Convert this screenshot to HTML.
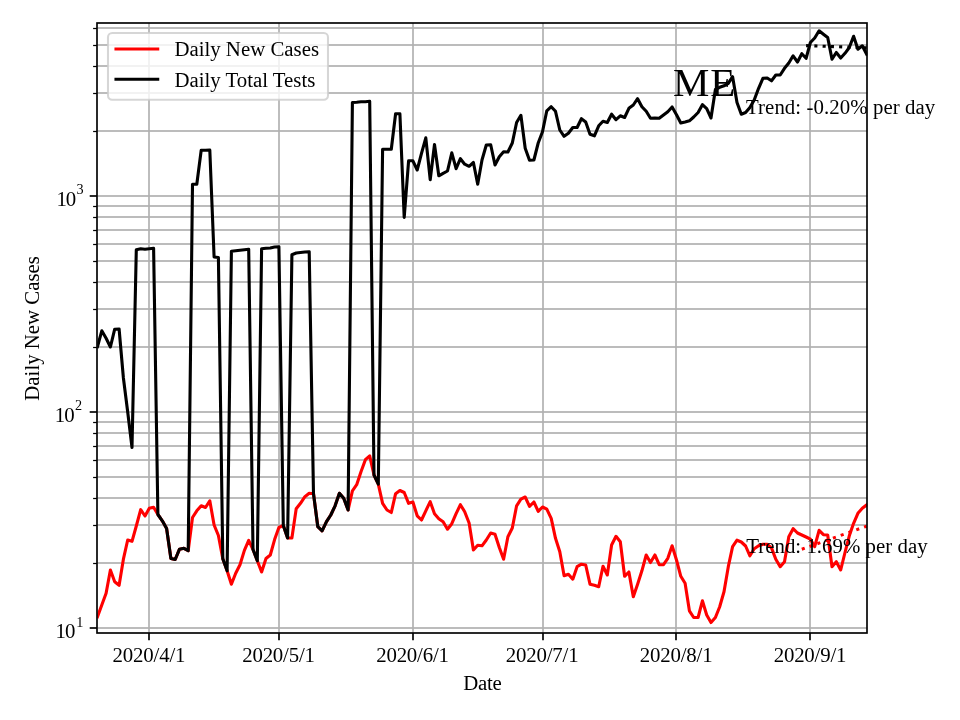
<!DOCTYPE html>
<html><head><meta charset="utf-8"><title>ME</title>
<style>
html,body{margin:0;padding:0;background:#fff;}
body{width:960px;height:720px;overflow:hidden;font-family:"Liberation Serif",serif;}
svg{display:block;will-change:transform}
text{font-family:"Liberation Serif",serif;fill:#000;}
</style></head><body>
<svg width="960" height="720" viewBox="0 0 960 720">
<rect width="960" height="720" fill="#fff"/>
<defs><clipPath id="c"><rect x="97.3" y="22.9" width="770.0" height="609.9"/></clipPath></defs>
<g stroke="#b0b0b0" stroke-width="1.67" fill="none"><line x1="149.0" x2="149.0" y1="22.9" y2="632.8"/><line x1="279.0" x2="279.0" y1="22.9" y2="632.8"/><line x1="413.0" x2="413.0" y1="22.9" y2="632.8"/><line x1="543.0" x2="543.0" y1="22.9" y2="632.8"/><line x1="676.0" x2="676.0" y1="22.9" y2="632.8"/><line x1="810.0" x2="810.0" y1="22.9" y2="632.8"/><rect x="97.3" y="627.165" width="770.0" height="1.67" fill="#b0b0b0" stroke="none"/><rect x="97.3" y="411.165" width="770.0" height="1.67" fill="#b0b0b0" stroke="none"/><rect x="97.3" y="195.165" width="770.0" height="1.67" fill="#b0b0b0" stroke="none"/><rect x="97.3" y="562.165" width="770.0" height="1.67" fill="#b0b0b0" stroke="none"/><rect x="97.3" y="524.165" width="770.0" height="1.67" fill="#b0b0b0" stroke="none"/><rect x="97.3" y="497.165" width="770.0" height="1.67" fill="#b0b0b0" stroke="none"/><rect x="97.3" y="476.165" width="770.0" height="1.67" fill="#b0b0b0" stroke="none"/><rect x="97.3" y="459.165" width="770.0" height="1.67" fill="#b0b0b0" stroke="none"/><rect x="97.3" y="445.165" width="770.0" height="1.67" fill="#b0b0b0" stroke="none"/><rect x="97.3" y="432.165" width="770.0" height="1.67" fill="#b0b0b0" stroke="none"/><rect x="97.3" y="421.165" width="770.0" height="1.67" fill="#b0b0b0" stroke="none"/><rect x="97.3" y="346.165" width="770.0" height="1.67" fill="#b0b0b0" stroke="none"/><rect x="97.3" y="308.165" width="770.0" height="1.67" fill="#b0b0b0" stroke="none"/><rect x="97.3" y="281.165" width="770.0" height="1.67" fill="#b0b0b0" stroke="none"/><rect x="97.3" y="260.165" width="770.0" height="1.67" fill="#b0b0b0" stroke="none"/><rect x="97.3" y="243.165" width="770.0" height="1.67" fill="#b0b0b0" stroke="none"/><rect x="97.3" y="229.165" width="770.0" height="1.67" fill="#b0b0b0" stroke="none"/><rect x="97.3" y="216.165" width="770.0" height="1.67" fill="#b0b0b0" stroke="none"/><rect x="97.3" y="205.165" width="770.0" height="1.67" fill="#b0b0b0" stroke="none"/><rect x="97.3" y="130.165" width="770.0" height="1.67" fill="#b0b0b0" stroke="none"/><rect x="97.3" y="92.165" width="770.0" height="1.67" fill="#b0b0b0" stroke="none"/><rect x="97.3" y="65.165" width="770.0" height="1.67" fill="#b0b0b0" stroke="none"/><rect x="97.3" y="44.165" width="770.0" height="1.67" fill="#b0b0b0" stroke="none"/><rect x="97.3" y="27.165" width="770.0" height="1.67" fill="#b0b0b0" stroke="none"/></g>
<g clip-path="url(#c)" fill="none" stroke-width="3.1" stroke-linejoin="round" stroke-linecap="square"><polyline stroke="#ff0000" points="97.5,616.7 101.8,605.0 106.1,593.3 110.4,570.0 114.7,581.7 119.1,585.3 123.4,559.2 127.7,540.0 132.0,541.3 136.3,526.0 140.7,509.7 145.0,516.0 149.3,508.3 153.6,507.2 157.9,514.5 162.3,520.8 166.6,528.5 170.9,558.5 175.2,559.5 179.5,549.2 183.9,548.3 188.2,550.7 192.5,517.5 196.8,510.8 201.2,505.8 205.5,507.5 209.8,500.8 214.1,525.0 218.4,535.5 222.8,558.7 227.1,570.8 231.4,584.2 235.7,573.3 240.0,564.8 244.4,550.4 248.7,540.4 253.0,549.5 257.3,560.8 261.6,572.0 266.0,558.5 270.3,555.0 274.6,539.6 278.9,527.5 283.3,525.4 287.6,538.0 291.9,538.0 296.2,508.7 300.5,503.3 304.9,496.7 309.2,493.3 313.5,493.7 317.8,526.7 322.1,530.8 326.5,521.7 330.8,515.0 335.1,505.8 339.4,493.3 343.7,498.3 348.1,510.0 352.4,490.8 356.7,484.7 361.0,471.7 365.4,459.7 369.7,455.8 374.0,475.0 378.3,484.2 382.6,503.3 387.0,510.0 391.3,512.5 395.6,493.7 399.9,490.5 404.2,492.5 408.6,503.3 412.9,502.0 417.2,515.8 421.5,520.0 425.8,510.8 430.2,501.7 434.5,513.7 438.8,518.7 443.1,521.7 447.5,529.2 451.8,523.7 456.1,513.7 460.4,504.7 464.7,511.7 469.1,523.0 473.4,550.0 477.7,545.3 482.0,545.8 486.3,540.0 490.7,533.0 495.0,534.2 499.3,547.5 503.6,559.2 507.9,536.7 512.3,528.0 516.6,505.8 520.9,499.2 525.2,497.0 529.5,506.3 533.9,502.0 538.2,511.3 542.5,507.0 546.8,509.2 551.2,518.3 555.5,538.3 559.8,551.7 564.1,575.8 568.4,574.2 572.8,579.2 577.1,566.7 581.4,564.2 585.7,565.0 590.0,584.2 594.4,585.3 598.7,586.7 603.0,566.3 607.3,575.0 611.6,545.0 616.0,536.3 620.3,541.7 624.6,576.3 628.9,572.0 633.3,596.7 637.6,584.2 641.9,570.8 646.2,555.0 650.5,562.5 654.9,555.0 659.2,564.7 663.5,564.7 667.8,558.3 672.1,545.8 676.5,560.0 680.8,576.3 685.1,583.3 689.4,610.8 693.7,617.5 698.1,617.5 702.4,600.8 706.7,615.0 711.0,622.5 715.4,617.5 719.7,606.7 724.0,591.7 728.3,566.7 732.6,546.7 737.0,540.2 741.3,542.0 745.6,546.0 749.9,555.8 754.2,548.7 758.6,545.8 762.9,544.2 767.2,544.3 771.5,547.9 775.8,559.2 780.2,566.7 784.5,561.7 788.8,536.7 793.1,528.7 797.5,533.0 801.8,535.0 806.1,537.0 810.4,539.2 814.7,546.7 819.1,530.3 823.4,534.7 827.7,535.0 832.0,566.7 836.3,561.7 840.7,570.0 845.0,552.5 849.3,535.8 853.6,523.3 857.9,513.3 862.3,508.3 866.6,505.0"/><polyline stroke="#000" points="97.5,346.7 101.8,330.8 106.1,338.3 110.4,347.0 114.7,329.2 119.1,329.0 123.4,378.0 127.7,412.0 132.0,447.5 136.3,249.7 140.7,248.7 145.0,249.2 149.3,248.7 153.6,248.3 157.9,514.5 162.3,520.8 166.6,528.5 170.9,558.5 175.2,559.5 179.5,549.2 183.9,548.3 188.2,550.7 192.5,184.2 196.8,184.2 201.2,150.3 205.5,150.3 209.8,150.0 214.1,257.0 218.4,257.5 222.8,558.7 227.1,570.8 231.4,251.3 235.7,250.8 240.0,250.3 244.4,249.7 248.7,249.2 253.0,549.5 257.3,560.8 261.6,248.7 266.0,248.3 270.3,248.0 274.6,247.0 278.9,246.7 283.3,525.4 287.6,538.0 291.9,254.7 296.2,253.0 300.5,252.5 304.9,252.0 309.2,251.7 313.5,493.7 317.8,526.7 322.1,530.8 326.5,521.7 330.8,515.0 335.1,505.8 339.4,493.3 343.7,498.3 348.1,510.0 352.4,102.5 356.7,102.2 361.0,101.8 365.4,101.7 369.7,101.3 374.0,475.0 378.3,484.2 382.6,149.2 387.0,149.2 391.3,149.2 395.6,113.8 399.9,113.8 404.2,217.5 408.6,160.8 412.9,160.8 417.2,170.0 421.5,153.3 425.8,137.8 430.2,179.7 434.5,144.5 438.8,175.8 443.1,173.3 447.5,171.0 451.8,152.8 456.1,168.7 460.4,158.7 464.7,164.2 469.1,166.3 473.4,162.5 477.7,184.2 482.0,160.0 486.3,145.0 490.7,144.7 495.0,165.0 499.3,156.7 503.6,151.7 507.9,152.0 512.3,143.0 516.6,122.5 520.9,115.3 525.2,148.3 529.5,160.3 533.9,160.0 538.2,143.0 542.5,131.7 546.8,110.8 551.2,106.7 555.5,111.3 559.8,130.0 564.1,136.3 568.4,133.3 572.8,127.5 577.1,127.5 581.4,118.7 585.7,122.0 590.0,134.2 594.4,135.8 598.7,125.8 603.0,121.3 607.3,122.5 611.6,114.2 616.0,119.7 620.3,115.8 624.6,117.5 628.9,108.3 633.3,105.0 637.6,98.7 641.9,106.7 646.2,111.3 650.5,118.3 654.9,118.0 659.2,118.3 663.5,115.0 667.8,111.7 672.1,107.0 676.5,114.7 680.8,123.0 685.1,122.0 689.4,120.8 693.7,117.0 698.1,112.5 702.4,104.7 706.7,108.7 711.0,118.0 715.4,89.5 719.7,87.3 724.0,85.8 728.3,83.3 732.6,76.7 737.0,102.5 741.3,114.2 745.6,112.5 749.9,107.5 754.2,100.0 758.6,88.3 762.9,78.3 767.2,78.0 771.5,80.8 775.8,75.0 780.2,75.0 784.5,68.3 788.8,63.0 793.1,55.8 797.5,62.0 801.8,53.7 806.1,58.3 810.4,42.5 814.7,38.0 819.1,30.8 823.4,34.2 827.7,37.5 832.0,59.2 836.3,52.5 840.7,58.0 845.0,53.3 849.3,47.5 853.6,36.3 857.9,49.2 862.3,45.8 866.6,54.2"/><line stroke="#ff0000" stroke-linecap="butt" stroke-dasharray="3.1 5.16" x1="801.8" y1="549.2" x2="866.6" y2="526.2"/><line stroke="#000" stroke-linecap="butt" stroke-dasharray="3.1 5.16" x1="806.1" y1="45.6" x2="866.6" y2="47.8"/></g>
<g stroke="#000" fill="none"><line x1="149.0" x2="149.0" y1="633.0" y2="640.3" stroke-width="1.67"/><line x1="279.0" x2="279.0" y1="633.0" y2="640.3" stroke-width="1.67"/><line x1="413.0" x2="413.0" y1="633.0" y2="640.3" stroke-width="1.67"/><line x1="543.0" x2="543.0" y1="633.0" y2="640.3" stroke-width="1.67"/><line x1="676.0" x2="676.0" y1="633.0" y2="640.3" stroke-width="1.67"/><line x1="810.0" x2="810.0" y1="633.0" y2="640.3" stroke-width="1.67"/><line x1="89.7" x2="97.0" y1="628.0" y2="628.0" stroke-width="1.67"/><line x1="89.7" x2="97.0" y1="412.0" y2="412.0" stroke-width="1.67"/><line x1="89.7" x2="97.0" y1="196.0" y2="196.0" stroke-width="1.67"/><line x1="93.1" x2="97.0" y1="563.5" y2="563.5" stroke-width="1.25"/><line x1="93.1" x2="97.0" y1="525.5" y2="525.5" stroke-width="1.25"/><line x1="93.1" x2="97.0" y1="498.5" y2="498.5" stroke-width="1.25"/><line x1="93.1" x2="97.0" y1="477.5" y2="477.5" stroke-width="1.25"/><line x1="93.1" x2="97.0" y1="460.5" y2="460.5" stroke-width="1.25"/><line x1="93.1" x2="97.0" y1="446.5" y2="446.5" stroke-width="1.25"/><line x1="93.1" x2="97.0" y1="433.5" y2="433.5" stroke-width="1.25"/><line x1="93.1" x2="97.0" y1="422.5" y2="422.5" stroke-width="1.25"/><line x1="93.1" x2="97.0" y1="347.5" y2="347.5" stroke-width="1.25"/><line x1="93.1" x2="97.0" y1="309.5" y2="309.5" stroke-width="1.25"/><line x1="93.1" x2="97.0" y1="282.5" y2="282.5" stroke-width="1.25"/><line x1="93.1" x2="97.0" y1="261.5" y2="261.5" stroke-width="1.25"/><line x1="93.1" x2="97.0" y1="244.5" y2="244.5" stroke-width="1.25"/><line x1="93.1" x2="97.0" y1="230.5" y2="230.5" stroke-width="1.25"/><line x1="93.1" x2="97.0" y1="217.5" y2="217.5" stroke-width="1.25"/><line x1="93.1" x2="97.0" y1="206.5" y2="206.5" stroke-width="1.25"/><line x1="93.1" x2="97.0" y1="131.5" y2="131.5" stroke-width="1.25"/><line x1="93.1" x2="97.0" y1="93.5" y2="93.5" stroke-width="1.25"/><line x1="93.1" x2="97.0" y1="66.5" y2="66.5" stroke-width="1.25"/><line x1="93.1" x2="97.0" y1="45.5" y2="45.5" stroke-width="1.25"/><line x1="93.1" x2="97.0" y1="28.5" y2="28.5" stroke-width="1.25"/></g>
<rect x="97.0" y="23.0" width="770.0" height="610.0" fill="none" stroke="#000" stroke-width="1.67"/>
<text x="148.9" y="661.9" font-size="20.83" letter-spacing="-0.17" text-anchor="middle">2020/4/1</text><text x="278.5" y="661.9" font-size="20.83" letter-spacing="-0.17" text-anchor="middle">2020/5/1</text><text x="412.5" y="661.9" font-size="20.83" letter-spacing="-0.17" text-anchor="middle">2020/6/1</text><text x="542.1" y="661.9" font-size="20.83" letter-spacing="-0.17" text-anchor="middle">2020/7/1</text><text x="676.1" y="661.9" font-size="20.83" letter-spacing="-0.17" text-anchor="middle">2020/8/1</text><text x="810.0" y="661.9" font-size="20.83" letter-spacing="-0.17" text-anchor="middle">2020/9/1</text><text x="55.5" y="638.2" font-size="20.83"><tspan letter-spacing="-1">1</tspan>0<tspan font-size="14.2" dx="1.0" dy="-11.7">1</tspan></text><text x="54.8" y="422.1" font-size="20.83"><tspan letter-spacing="-1">1</tspan>0<tspan font-size="14.2" dx="0.3" dy="-11.7">2</tspan></text><text x="56.4" y="206.1" font-size="20.83"><tspan letter-spacing="-1">1</tspan>0<tspan font-size="14.2" dx="0.3" dy="-11.7">3</tspan></text>
<text x="482.3" y="689.7" font-size="20.83" letter-spacing="-0.25" text-anchor="middle">Date</text><text transform="translate(38.9,328.4) rotate(-90)" font-size="20.83" text-anchor="middle">Daily New Cases</text>
<text x="673.0" y="95.8" font-size="40.9" letter-spacing="0.8">ME</text><text x="746.0" y="113.5" font-size="20.83" letter-spacing="0.07">Trend: -0.20% per day</text><text x="746.2" y="552.8" font-size="20.83" letter-spacing="0.03">Trend: 1.69% per day</text>
<rect x="108" y="33" width="220" height="66.8" rx="4.2" ry="4.2" fill="#fff" fill-opacity="0.8" stroke="#ccc" stroke-opacity="0.8" stroke-width="2.08"/><line x1="116" x2="157.7" y1="49" y2="49" stroke="#ff0000" stroke-width="3.1" stroke-linecap="square"/><line x1="116" x2="157.7" y1="79.3" y2="79.3" stroke="#000" stroke-width="3.1" stroke-linecap="square"/><text x="174.4" y="56.2" font-size="20.83">Daily New Cases</text><text x="174.4" y="86.6" font-size="20.83">Daily Total Tests</text>
</svg></body></html>
